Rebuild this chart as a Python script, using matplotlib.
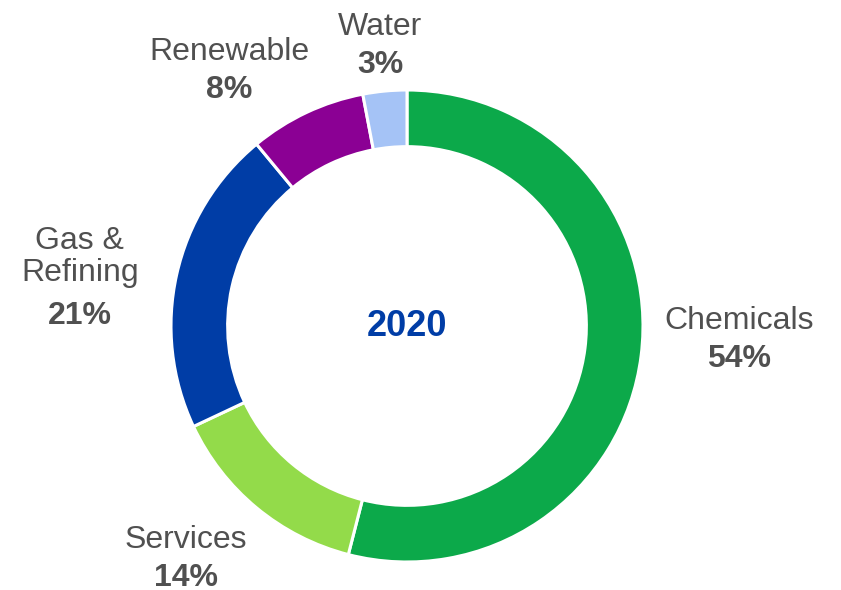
import matplotlib
matplotlib.use('Agg')
import matplotlib.pyplot as plt

# segment shares, clockwise from 12 o'clock
sectors = ['Chemicals', 'Services', 'Gas &\nRefining', 'Renewable', 'Water']
shares = [54, 14, 21, 8, 3]
colors = ['#0ca94a', '#93db4a', '#003da6', '#8b0094', '#a5c3f6']
# where each percentage sits, in units of the outer radius
label_pos = [(1.407, -0.14), (-0.936, -1.068), (-1.386, 0.042), (-0.754, 1.0), (-0.114, 1.106)]
year = '2020'

plt.rcParams['font.family'] = ['Liberation Sans', 'DejaVu Sans']
text_col = '#505050'

fig = plt.figure(figsize=(8.41, 5.90), dpi=100)
ax = fig.add_axes([0, 0, 1, 1])

R = 236
cx, cy = 407, 326
ax.pie(shares, colors=colors, startangle=90, counterclock=False, radius=1,
       wedgeprops=dict(width=0.24, edgecolor='white', linewidth=2.2))

ax.set_xlim(-cx / R, (841 - cx) / R)
ax.set_ylim(-(590 - cy) / R, cy / R)
ax.set_aspect('equal')
ax.axis('off')

ax.text(0, 0, year, ha='center', va='center', fontsize=26, fontweight='bold', color='#003da6')

for name, val, (x, y) in zip(sectors, shares, label_pos):
    ax.text(x, y, f'{val}%', ha='center', va='center', fontsize=23,
            fontweight='bold', color=text_col)
    lift = 59 if '\n' in name else 38
    ax.annotate(name, (x, y), xytext=(0, lift * 0.72), textcoords='offset points',
                ha='center', va='center', fontsize=23, color=text_col,
                linespacing=1.12)

fig.savefig('out.png', dpi=100)
